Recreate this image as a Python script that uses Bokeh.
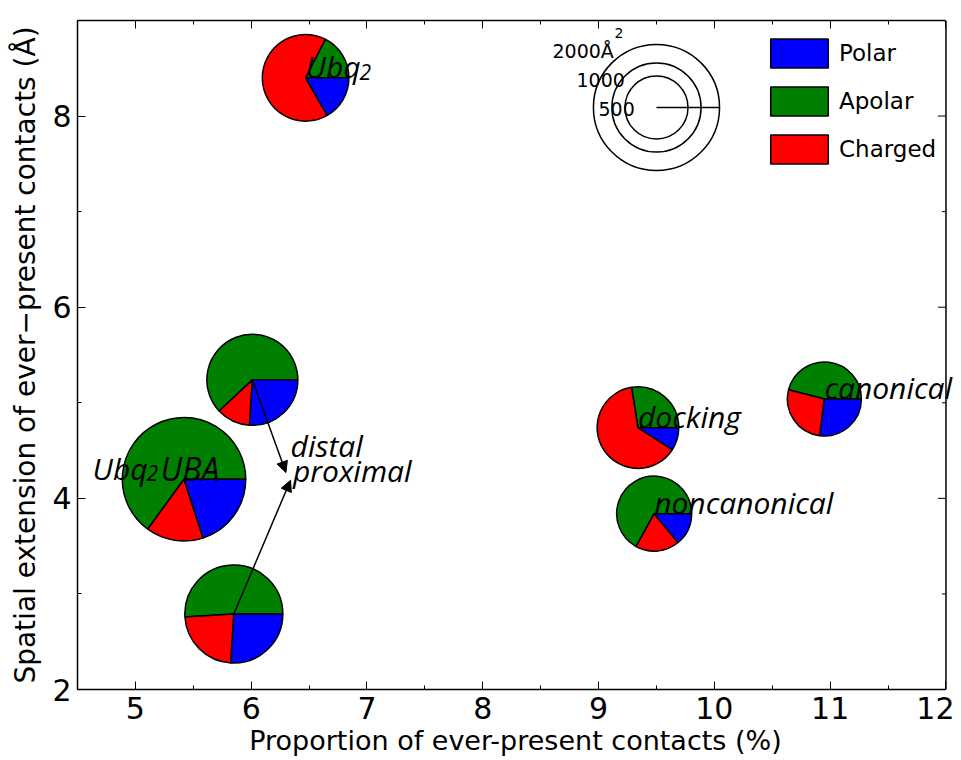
import numpy as np
from bokeh.plotting import figure
from bokeh.models import (ColumnDataSource, LinearAxis, SingleIntervalTicker, Arrow,
                          NormalHead, Label, Legend, LegendItem, Range1d,
                          CustomJSTickFormatter)
from bokeh.embed import file_html
from bokeh.resources import INLINE

# ---------------- data ----------------
systems = ["Ubq2", "Ubq2UBA distal", "Ubq2UBA", "Ubq2UBA proximal", "docking", "noncanonical", "canonical"]
contacts_pct = [6.47, 6.01, 5.42, 5.85, 9.34, 9.48, 10.95]      # x
extension = [8.40, 5.24, 4.20, 2.79, 4.74, 3.84, 5.04]          # y (Å)
area = [943, 1041, 1915, 1208, 837, 707, 689]                   # total area (Å^2)
polar = [16.7, 26.0, 20.0, 26.0, 9.0, 14.0, 27.0]               # %
apolar = [17.5, 62.0, 65.0, 51.0, 27.5, 67.0, 46.0]             # %
charged = [65.8, 12.0, 15.0, 23.0, 63.5, 19.0, 27.0]            # %

size_ref_areas = [2000, 1000, 500]
size_ref_labels = ["2000", "1000", "500"]
size_ref_center = (9.5, 8.09)

X_MIN, X_MAX = 4.5, 12
Y_MIN, Y_MAX = 2, 9
y_major = [2, 4, 6, 8]
y_minor = [3, 5, 7]

PX_PER_SQRT_AREA = 1.41
X_PAD = 0.065   # frame extends a little past x=12 so that text may overhang the right spine

# ---------------- figure ----------------
p = figure(width=954, height=758, x_range=Range1d(X_MIN, X_MAX + X_PAD), y_range=Range1d(Y_MIN, Y_MAX),
           output_backend="svg", toolbar_location=None,
           min_border_left=77, min_border_right=1, min_border_top=20, min_border_bottom=66,
           x_axis_label="Proportion of ever-present contacts (%)",
           y_axis_label="Spatial extension of ever\u2212present contacts (\u00c5)")
p.grid.visible = False
p.outline_line_color = None
p.background_fill_color = "white"
p.border_fill_color = "white"

def style_axis(ax, interval, show_labels):
    ax.ticker = SingleIntervalTicker(interval=interval, num_minor_ticks=2)
    ax.axis_line_color = "black"
    ax.axis_line_width = 1.5
    ax.major_tick_in = 8
    ax.major_tick_out = 0
    ax.minor_tick_in = 4
    ax.minor_tick_out = 0
    ax.major_tick_line_color = "black"
    ax.minor_tick_line_color = "black"
    ax.major_tick_line_width = 1
    ax.minor_tick_line_width = 1
    if show_labels:
        ax.major_label_text_font = "DejaVu Sans"
        ax.major_label_text_font_size = "30px"
        ax.major_label_text_color = "black"
        ax.axis_label_text_font = "DejaVu Sans"
        ax.axis_label_text_font_style = "normal"
        ax.axis_label_text_font_size = "27px"
        ax.axis_label_text_color = "black"
    else:
        ax.formatter = CustomJSTickFormatter(code="return ''")
        ax.major_label_text_font_size = "0px"
        ax.major_label_standoff = 0

xa = p.xaxis[0]
ya = p.yaxis[0]
style_axis(xa, 1, True)
style_axis(ya, 2, True)
xa.bounds = (X_MIN, X_MAX)
xa.major_label_standoff = 7
xa.axis_label_standoff = 3
ya.major_label_standoff = 6
ya.axis_label_text_font_size = "28px"
ya.axis_label_standoff = 7

top = LinearAxis()
style_axis(top, 1, False)
top.bounds = (X_MIN, X_MAX)
p.add_layout(top, "above")

# right spine with inward ticks
p.segment(x0=[X_MAX], y0=[Y_MIN], x1=[X_MAX], y1=[Y_MAX], line_color="black", line_width=1.5)
p.ray(x=[X_MAX] * len(y_major), y=y_major, length=8, length_units="screen", angle=np.pi,
      line_color="black", line_width=1)
p.ray(x=[X_MAX] * len(y_minor), y=y_minor, length=4, length_units="screen", angle=np.pi,
      line_color="black", line_width=1)

# ---------------- pies ----------------
radius_px = [PX_PER_SQRT_AREA * np.sqrt(a) for a in area]
a_end = [2 * np.pi * a / 100 for a in apolar]
c_end = [2 * np.pi * (a + c) / 100 for a, c in zip(apolar, charged)]

src_g = ColumnDataSource(dict(x=contacts_pct, y=extension, r=radius_px,
                              s=[0.0] * len(area), e=a_end))
src_r = ColumnDataSource(dict(x=contacts_pct, y=extension, r=radius_px, s=a_end, e=c_end))
src_b = ColumnDataSource(dict(x=contacts_pct, y=extension, r=radius_px,
                              s=c_end, e=[2 * np.pi] * len(area)))

wkw = dict(x="x", y="y", radius="r", radius_units="screen", start_angle="s", end_angle="e",
           line_color="black", line_width=1.5)
r_apolar = p.wedge(source=src_g, fill_color="#008000", **wkw)
r_charged = p.wedge(source=src_r, fill_color="#ff0000", **wkw)
r_polar = p.wedge(source=src_b, fill_color="#0000ff", **wkw)

# ---------------- size reference ----------------
cx, cy = size_ref_center
p.scatter(x=[cx] * 3, y=[cy] * 3, size=[2 * PX_PER_SQRT_AREA * np.sqrt(a) for a in size_ref_areas],
          marker="circle", fill_color=None, line_color="black", line_width=1.5)
p.ray(x=[cx], y=[cy], length=PX_PER_SQRT_AREA * np.sqrt(size_ref_areas[0]), length_units="screen",
      angle=0, line_color="black", line_width=1.5)

def add_label(x, y, text, size, xo=0, yo=0, font="DejaVu Sans", style="normal", align="left"):
    p.add_layout(Label(x=x, y=y, text=text, x_offset=xo, y_offset=yo, text_font=font,
                       text_font_style=style, text_font_size=size, text_align=align,
                       text_baseline="alphabetic", text_color="black"))

add_label(cx, cy, size_ref_labels[0] + "\u00c5", "19px", xo=-104, yo=56)
add_label(cx, cy, "2", "14px", xo=-42, yo=74)
add_label(cx, cy, size_ref_labels[1], "19px", xo=-80, yo=27)
add_label(cx, cy, size_ref_labels[2], "19px", xo=-58, yo=-2)

# ---------------- arrows ----------------
arrow_from = [1, 3]
arrow_to_x = [6.30, 6.34]
arrow_to_y = [4.27, 4.19]
for i, tx, ty in zip(arrow_from, arrow_to_x, arrow_to_y):
    p.add_layout(Arrow(x_start=contacts_pct[i], y_start=extension[i], x_end=tx, y_end=ty,
                       line_color="black", line_width=1.5,
                       end=NormalHead(size=11, fill_color="black", line_color="black")))

# ---------------- text labels ----------------
IT = dict(font="Open Sans", style="italic")
LS = "30px"
SS = "21px"
UP = 11
add_label(contacts_pct[0], extension[0], "Ubq", LS, yo=UP, **IT)
add_label(contacts_pct[0], extension[0], "2", SS, xo=54, yo=UP - 5, **IT)
add_label(4.63, 4.20, "Ubq", LS, yo=UP, **IT)
add_label(4.63, 4.20, "2", SS, xo=54, yo=UP - 5, **IT)
add_label(4.63, 4.20, "UBA", "32px", xo=68, yo=UP, **IT)
add_label(6.34, 4.44, "distal", LS, yo=UP, **IT)
add_label(6.36, 4.18, "proximal", LS, yo=UP, **IT)
add_label(contacts_pct[4], extension[4], "docking", LS, yo=UP, **IT)
add_label(contacts_pct[5], extension[5], "noncanonical", LS, yo=UP, **IT)
add_label(contacts_pct[6], extension[6], "canonical", LS, yo=UP, **IT)

# ---------------- legend ----------------
legend = Legend(items=[LegendItem(label="Polar", renderers=[r_polar]),
                       LegendItem(label="Apolar", renderers=[r_apolar]),
                       LegendItem(label="Charged", renderers=[r_charged])],
                location=(686, 522), glyph_width=72, glyph_height=36, spacing=12,
                label_standoff=4, padding=10, margin=0, border_line_color=None,
                background_fill_alpha=0, label_text_font="DejaVu Sans",
                label_text_font_size="23px", label_text_color="black")
p.add_layout(legend)

open("out.html", "w").write(file_html(p, INLINE))
